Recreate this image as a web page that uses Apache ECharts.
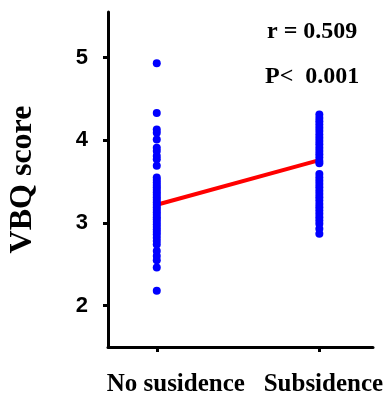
<!DOCTYPE html>
<html><head><meta charset="utf-8">
<script src="https://cdn.jsdelivr.net/npm/echarts@6/dist/echarts.min.js"></script>
<style>html,body{margin:0;padding:0;background:#fff}#c{width:387px;height:394px}</style>
</head><body><div id="c"></div>
<script>
var categories = ['No susidence', 'Subsidence'];
var yTicks = [2, 3, 4, 5];
var noSubsidence = [4.93, 4.33, 4.13, 4.09, 4.01, 3.91, 3.87, 3.81, 3.77, 3.69,
  3.55, 3.52, 3.49, 3.46, 3.43, 3.40, 3.37, 3.34, 3.31, 3.28, 3.25, 3.22, 3.19, 3.16,
  3.13, 3.10, 3.07, 3.04, 3.01, 2.98, 2.95, 2.92, 2.89, 2.86, 2.82, 2.78, 2.74,
  2.66, 2.60, 2.55, 2.46, 2.18];
var subsidence = [4.31, 4.27, 4.23, 4.19, 4.15, 4.11, 4.07, 4.03, 3.99, 3.95, 3.91,
  3.87, 3.83, 3.79, 3.75, 3.72, 3.59, 3.55, 3.51, 3.47, 3.43, 3.39, 3.35, 3.31,
  3.27, 3.23, 3.19, 3.15, 3.11, 3.07, 3.03, 2.99, 2.93, 2.87];
var meanLine = [3.22, 3.76];
var stats = ['r = 0.509', 'P<  0.001'];

var chart = echarts.init(document.getElementById('c'));
var ptsA = noSubsidence.map(function(v){return [0, v];});
var ptsB = subsidence.map(function(v){return [1, v];});
chart.setOption({
  animation: false,
  grid: {left: 108, right: 14, top: 12, bottom: 47, outerBoundsMode: 'none', containLabel: false},
  xAxis: {
    type: 'value', min: -0.3, max: 1.33,
    splitLine: {show: false},
    axisLine: {show: true, onZero: false, lineStyle: {color: '#000', width: 3}},
    axisTick: {show: true, customValues: [0, 1], length: 5, lineStyle: {color: '#000', width: 3}},
    axisLabel: {customValues: [0.117, 1.025], margin: 25, color: '#000',
      fontFamily: 'Liberation Serif', fontWeight: 'bold', fontSize: 25,
      formatter: function(v){ return categories[Math.round(v)]; }}
  },
  yAxis: {
    type: 'value', min: 1.5, max: 5.55,
    name: 'VBQ score', nameLocation: 'middle', nameGap: 69,
    nameTextStyle: {fontFamily: 'Liberation Serif', fontWeight: 'bold', fontSize: 32, color: '#000'},
    splitLine: {show: false},
    axisLine: {show: true, onZero: false, lineStyle: {color: '#000', width: 3}},
    axisTick: {show: true, customValues: yTicks, length: 5, lineStyle: {color: '#000', width: 3}},
    axisLabel: {customValues: yTicks, margin: 20, color: '#000',
      fontFamily: 'Liberation Sans', fontWeight: 'bold', fontSize: 22}
  },
  graphic: [
    {type: 'text', left: 267, top: 20, style: {text: stats[0], fill: '#000',
      font: 'bold 24px "Liberation Serif"'}},
    {type: 'text', left: 265, top: 65, style: {text: stats[1], fill: '#000',
      font: 'bold 24px "Liberation Serif"'}}
  ],
  series: [
    {type: 'scatter', data: ptsA, symbolSize: 8, itemStyle: {color: '#0000ff', opacity: 1}, z: 3},
    {type: 'scatter', data: ptsB, symbolSize: 8, itemStyle: {color: '#0000ff', opacity: 1}, z: 3},
    {type: 'line', data: [[0, meanLine[0]], [1, meanLine[1]]], symbol: 'none',
      lineStyle: {color: '#ff0000', width: 4}, z: 2}
  ]
});
</script></body></html>
